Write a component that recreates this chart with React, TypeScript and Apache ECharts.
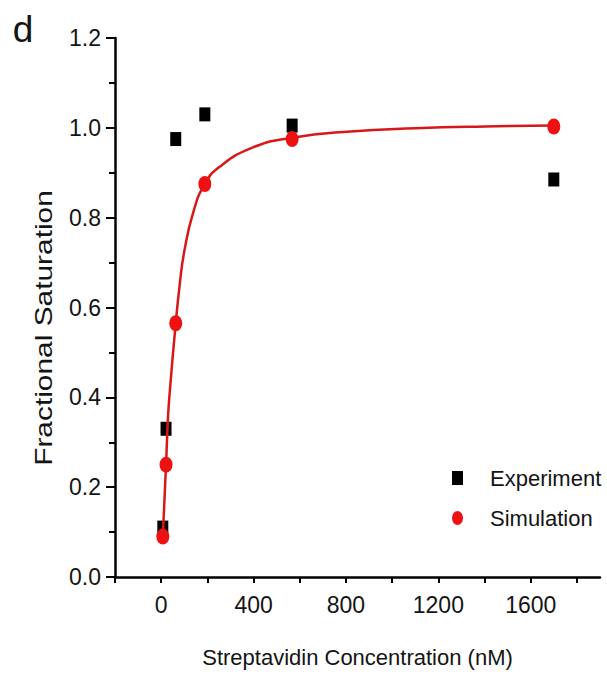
import React, { useEffect, useRef } from "react";
import * as echarts from "echarts";

const expX = [7, 21, 63, 189, 567, 1700];
const expY = [0.11, 0.33, 0.975, 1.03, 1.005, 0.885];
const simX = [7, 21, 63, 189, 567, 1700];
const simY = [0.09, 0.25, 0.565, 0.875, 0.975, 1.003];
const fitX = [7, 21, 30, 40, 63, 80, 100, 140, 189, 250, 390, 567, 820, 1100, 1400, 1700];
const fitY = [0.09, 0.25, 0.36, 0.43, 0.565, 0.65, 0.725, 0.814, 0.875, 0.912, 0.955, 0.978, 0.992, 0.999, 1.003, 1.005];
const xTickValues = [-200, 0, 200, 400, 600, 800, 1000, 1200, 1400, 1600, 1800];
const xLabelValues = [0, 400, 800, 1200, 1600];

const REG = "'Liberation Sans', Arial, sans-serif";
const TXT = "#141414";
const ELLIPSE = "path://M0,1 A1,1 0 1 1 2,1 A1,1 0 1 1 0,1 Z";

export default function App() {
  const ref = useRef<HTMLDivElement>(null);
  useEffect(() => {
    if (!ref.current) return;
    const chart = echarts.init(ref.current, undefined, { renderer: "svg" });
    const zip = (xs: number[], ys: number[]) => xs.map((x, i) => [x, ys[i]]);
    chart.setOption({
      animation: false,
      backgroundColor: "#ffffff",
      grid: { left: 115, right: 7, top: 38, bottom: 100, containLabel: false },
      xAxis: {
        type: "value",
        min: -200,
        max: 1900,
        interval: 200,
        name: "Streptavidin Concentration (nM)",
        nameLocation: "middle",
        nameGap: 69,
        nameTextStyle: { fontFamily: REG, fontSize: 22, color: TXT },
        axisLine: { show: true, onZero: false, lineStyle: { color: "#000", width: 2.5 } },
        axisTick: { show: true, length: 6, customValues: xTickValues, lineStyle: { color: "#000", width: 2 } },
        axisLabel: {
          customValues: xLabelValues,
          margin: 16,
          fontFamily: REG,
          fontSize: 23,
          color: TXT,
          formatter: (v: number) => (v >= 0 && v % 400 === 0 && v <= 1600 ? String(v) : ""),
        },
        splitLine: { show: false },
      },
      yAxis: {
        type: "value",
        min: 0,
        max: 1.2,
        interval: 0.2,
        axisLine: { show: true, onZero: false, lineStyle: { color: "#000", width: 2.5 } },
        axisTick: { show: true, length: 9, lineStyle: { color: "#000", width: 2 } },
        minorTick: { show: true, splitNumber: 2, length: 6, lineStyle: { color: "#000", width: 2 } },
        axisLabel: {
          margin: 14,
          fontFamily: REG,
          fontSize: 23,
          color: TXT,
          formatter: (v: number) => v.toFixed(1),
        },
        splitLine: { show: false },
      },
      legend: {
        orient: "vertical",
        left: 452,
        top: 467,
        padding: 0,
        itemWidth: 11,
        itemHeight: 14,
        itemGap: 18,
        symbolKeepAspect: false,
        textStyle: { fontFamily: REG, fontSize: 22, color: TXT, padding: [0, 0, 0, 22] },
        data: ["Experiment", "Simulation"],
      },
      graphic: [
        {
          type: "text",
          x: 23,
          y: 29,
          style: { text: "d", font: `37px ${REG}`, fill: TXT, align: "center", verticalAlign: "middle" },
        },
        {
          type: "text",
          x: 44,
          y: 328,
          rotation: Math.PI / 2,
          scaleX: 1.3,
          style: {
            text: "Fractional Saturation",
            font: `23px ${REG}`,
            fill: TXT,
            align: "center",
            verticalAlign: "middle",
          },
        },
      ],
      series: [
        {
          name: "Experiment",
          type: "scatter",
          symbol: "rect",
          symbolSize: [11, 14],
          itemStyle: { color: "#000000", opacity: 1 },
          data: zip(expX, expY),
          z: 2,
        },
        {
          name: "Fit",
          type: "line",
          smooth: 0.5,
          showSymbol: false,
          lineStyle: { color: "#d81818", width: 2.5 },
          data: zip(fitX, fitY),
          z: 3,
          silent: true,
        },
        {
          name: "Simulation",
          type: "scatter",
          symbol: ELLIPSE,
          symbolSize: [13, 16],
          itemStyle: { color: "#ee1111", opacity: 1 },
          data: zip(simX, simY),
          z: 4,
        },
      ],
    });
    return () => chart.dispose();
  }, []);
  return (
    <div
      ref={ref}
      style={{ position: "fixed", left: 0, top: 0, width: 607, height: 677, background: "#fff" }}
    />
  );
}
